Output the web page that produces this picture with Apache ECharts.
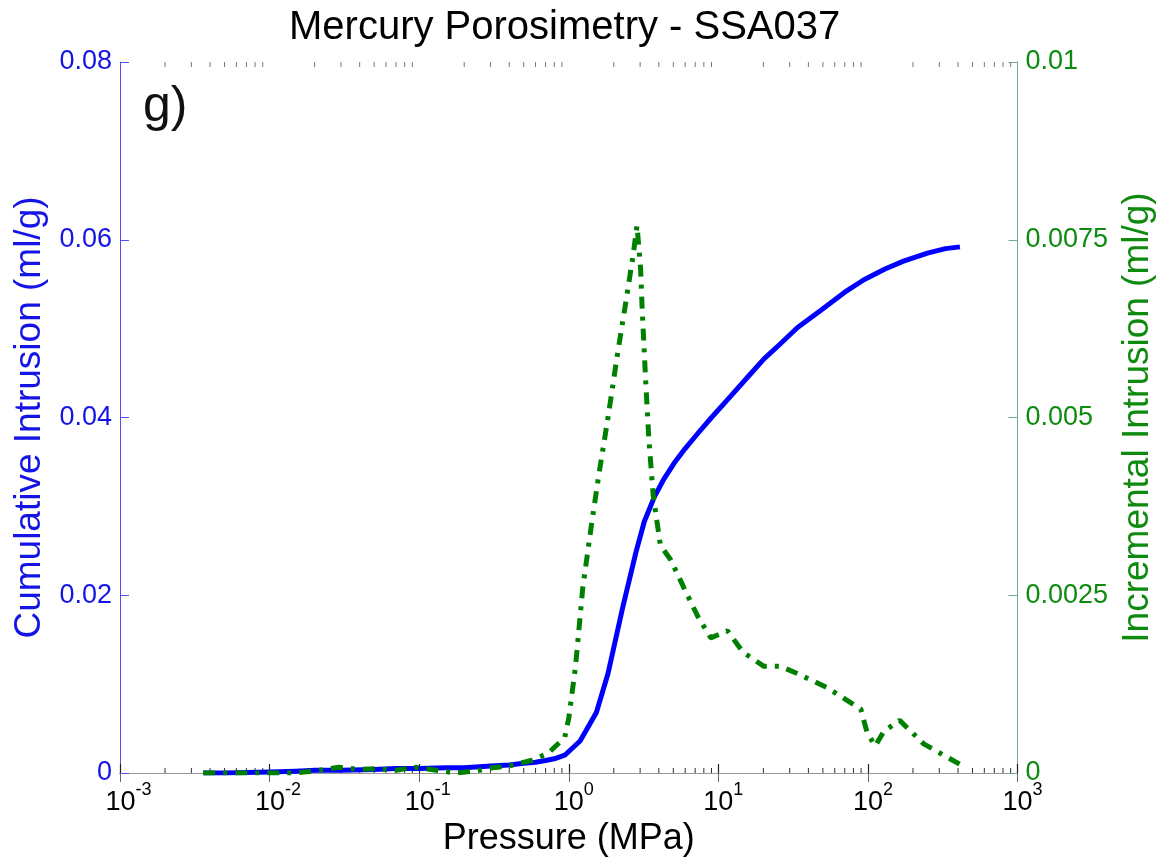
<!DOCTYPE html>
<html>
<head>
<meta charset="utf-8">
<script src="https://cdn.jsdelivr.net/npm/echarts@6/dist/echarts.min.js"></script>
<style>
html,body{margin:0;padding:0;background:#fff;}
#chart{width:1164px;height:862px;}
</style>
</head>
<body>
<div id="chart"></div>
<script>
// Cumulative intrusion (ml/g) vs pressure (MPa)
const cumPressure = [0.0036, 0.005, 0.007, 0.01, 0.015, 0.02, 0.03, 0.05, 0.07, 0.1, 0.15, 0.2, 0.3, 0.4, 0.5, 0.6, 0.7, 0.8, 0.94, 1.19, 1.53, 1.83, 2.3, 2.82, 3.2, 3.74, 4.3, 5.08, 6.0, 7.28, 9.0, 12.1, 16, 20.2, 26, 33.7, 48, 70, 94, 130, 173, 250, 330, 412];
const cumValues   = [0, 0, 0.00005, 0.0001, 0.0002, 0.0003, 0.0003, 0.0004, 0.0005, 0.0005, 0.0006, 0.0006, 0.0008, 0.0009, 0.0011, 0.0012, 0.0014, 0.0016, 0.002, 0.0036, 0.0068, 0.0112, 0.0187, 0.0249, 0.0283, 0.0311, 0.033, 0.0349, 0.0365, 0.0382, 0.04, 0.0424, 0.0447, 0.0466, 0.0483, 0.0501, 0.052, 0.0541, 0.0555, 0.0567, 0.0576, 0.0585, 0.059, 0.0592];

// Incremental intrusion (ml/g) vs pressure (MPa)
const incPressure = [0.0036, 0.005, 0.007, 0.01, 0.015, 0.02, 0.029, 0.04, 0.051, 0.07, 0.095, 0.13, 0.175, 0.24, 0.3, 0.4, 0.57, 0.73, 0.94, 1.0, 1.11, 1.24, 1.42, 1.59, 1.83, 2.12, 2.44, 2.7, 2.86, 3.02, 3.1, 3.27, 3.43, 3.67, 4.1, 4.8, 5.9, 7.3, 8.9, 11.5, 14.6, 20.2, 26, 33.7, 53.4, 89.6, 99, 112, 128, 163, 236, 413];
const incValues   = [0, 0, 0, 0, 0, 0.00003, 0.00008, 0.00005, 0.00006, 0.00004, 0.00008, 0.00004, 0, 0.00003, 0.00007, 0.0001, 0.00018, 0.00028, 0.0005, 0.00077, 0.0015, 0.0026, 0.0035, 0.0042, 0.005, 0.0059, 0.0067, 0.0073, 0.0077, 0.0071, 0.0065, 0.0055, 0.0047, 0.0039, 0.0032, 0.003, 0.0026, 0.0022, 0.0019, 0.002, 0.0017, 0.0015, 0.0015, 0.0014, 0.0012, 0.0009, 0.00056, 0.00038, 0.00059, 0.00074, 0.00041, 0.00012];

// Axis ticks
const leftTicks  = [0, 0.02, 0.04, 0.06, 0.08];
const rightTicks = [0, 0.0025, 0.005, 0.0075, 0.01];
const minorTickValues = [
  0.002,0.003,0.004,0.005,0.006,0.007,0.008,0.009,
  0.02,0.03,0.04,0.05,0.06,0.07,0.08,0.09,
  0.2,0.3,0.4,0.5,0.6,0.7,0.8,0.9,
  2,3,4,5,6,7,8,9,
  20,30,40,50,60,70,80,90,
  200,300,400,500,600,700,800,900
];

const FONT = "'Liberation Sans', Arial, Helvetica, sans-serif";
const BLUE = '#0000ff';
const GREEN = '#008000';

const chart = echarts.init(document.getElementById('chart'), null, {renderer: 'canvas'});

function zip(a, b) { return a.map((v, i) => [v, b[i]]); }

const option = {
  animation: false,
  backgroundColor: '#ffffff',
  textStyle: {fontFamily: FONT},
  title: {
    text: 'Mercury Porosimetry - SSA037',
    left: 284,
    top: 3,
    textStyle: {fontFamily: FONT, fontSize: 40, fontWeight: 'normal', color: '#000'}
  },
  grid: {left: 120, right: 142, top: 62, bottom: 89, containLabel: false},
  graphic: [{
    type: 'text', left: 143, top: 82,
    style: {text: 'g)', font: '50px ' + FONT, fill: '#111'}
  }],
  xAxis: [{
    type: 'log', logBase: 10, min: 0.001, max: 1000, interval: 1,
    position: 'bottom',
    axisLine: {lineStyle: {color: '#222', width: 1}},
    axisTick: {inside: true, length: 9, lineStyle: {color: '#222', width: 1.2}},
    splitLine: {show: false},
    axisLabel: {
      margin: 8,
      color: '#000',
      formatter: function (v) {
        const e = Math.round(Math.log10(v));
        return (e < 0 ? '{bn|10}' : '{bp|10}') + '{s|' + e + '}';
      },
      rich: {
        bp: {fontSize: 27, fontFamily: FONT, color: '#000', lineHeight: 35, verticalAlign: 'bottom', padding: [0, 0, 0, 10]},
        bn: {fontSize: 27, fontFamily: FONT, color: '#000', lineHeight: 35, verticalAlign: 'bottom', padding: [0, 0, 0, 17]},
        s: {fontSize: 18, fontFamily: FONT, color: '#000', lineHeight: 18, verticalAlign: 'top'}
      }
    },
    name: 'Pressure (MPa)',
    nameLocation: 'middle',
    nameGap: 44,
    nameTextStyle: {fontSize: 36, color: '#000', fontFamily: FONT}
  }, {
    type: 'log', logBase: 10, min: 0.001, max: 1000, interval: 1,
    position: 'top',
    axisLine: {lineStyle: {color: '#999', width: 1}},
    axisTick: {inside: true, length: 9, lineStyle: {color: '#666'}},
    axisLabel: {show: false},
    splitLine: {show: false}
  }],
  yAxis: [{
    type: 'value', min: 0, max: 0.08, interval: 0.02,
    position: 'left',
    axisLine: {show: true, lineStyle: {color: '#5050ff', width: 1}},
    axisTick: {show: true, inside: true, length: 9, lineStyle: {color: '#5050ff'}},
    splitLine: {show: false},
    axisLabel: {
      margin: 8, fontSize: 27, color: '#1414e6', fontFamily: FONT,
      formatter: function (v) { return v === 0 ? '0' : String(+v.toFixed(2)); }
    },
    name: 'Cumulative Intrusion (ml/g)',
    nameLocation: 'middle',
    nameRotate: 90,
    nameGap: 72,
    nameTextStyle: {fontSize: 37, color: '#1414e6', fontFamily: FONT}
  }, {
    type: 'value', min: 0, max: 0.01, interval: 0.0025,
    position: 'right',
    axisLine: {show: true, lineStyle: {color: '#6fa898', width: 1}},
    axisTick: {show: true, inside: true, length: 9, lineStyle: {color: '#6fa898'}},
    splitLine: {show: false},
    axisLabel: {
      margin: 8, fontSize: 27, color: '#0e8a0e', fontFamily: FONT,
      formatter: function (v) { return v === 0 ? '0' : String(+v.toFixed(4)); }
    },
    name: 'Incremental Intrusion (ml/g)',
    nameLocation: 'middle',
    nameRotate: 90,
    nameGap: 100,
    nameTextStyle: {fontSize: 37, color: '#0e8a0e', fontFamily: FONT}
  }],
  series: [{
    type: 'custom',
    xAxisIndex: 0, yAxisIndex: 0,
    silent: true,
    clip: false,
    z: 1,
    data: minorTickValues.map(v => [v, 0]),
    renderItem: function (params, api) {
      const x = api.value(0);
      const pb = api.coord([x, leftTicks[0]]);
      const pt = api.coord([x, leftTicks[leftTicks.length - 1]]);
      return {
        type: 'group',
        children: [
          {type: 'line', shape: {x1: pb[0], y1: pb[1], x2: pb[0], y2: pb[1] - 5}, style: {stroke: '#333', lineWidth: 1}},
          {type: 'line', shape: {x1: pt[0], y1: pt[1], x2: pt[0], y2: pt[1] + 5}, style: {stroke: '#777', lineWidth: 1}}
        ]
      };
    }
  }, {
    name: 'Cumulative',
    type: 'line',
    xAxisIndex: 0, yAxisIndex: 0,
    data: zip(cumPressure, cumValues),
    showSymbol: false,
    symbol: 'none',
    lineStyle: {color: BLUE, width: 5, join: 'round'},
    z: 3
  }, {
    name: 'Incremental',
    type: 'line',
    xAxisIndex: 0, yAxisIndex: 1,
    data: zip(incPressure, incValues),
    showSymbol: false,
    symbol: 'none',
    lineStyle: {color: GREEN, width: 5, type: [12, 8, 4, 8], cap: 'butt'},
    z: 4
  }]
};

chart.setOption(option);
</script>
</body>
</html>
